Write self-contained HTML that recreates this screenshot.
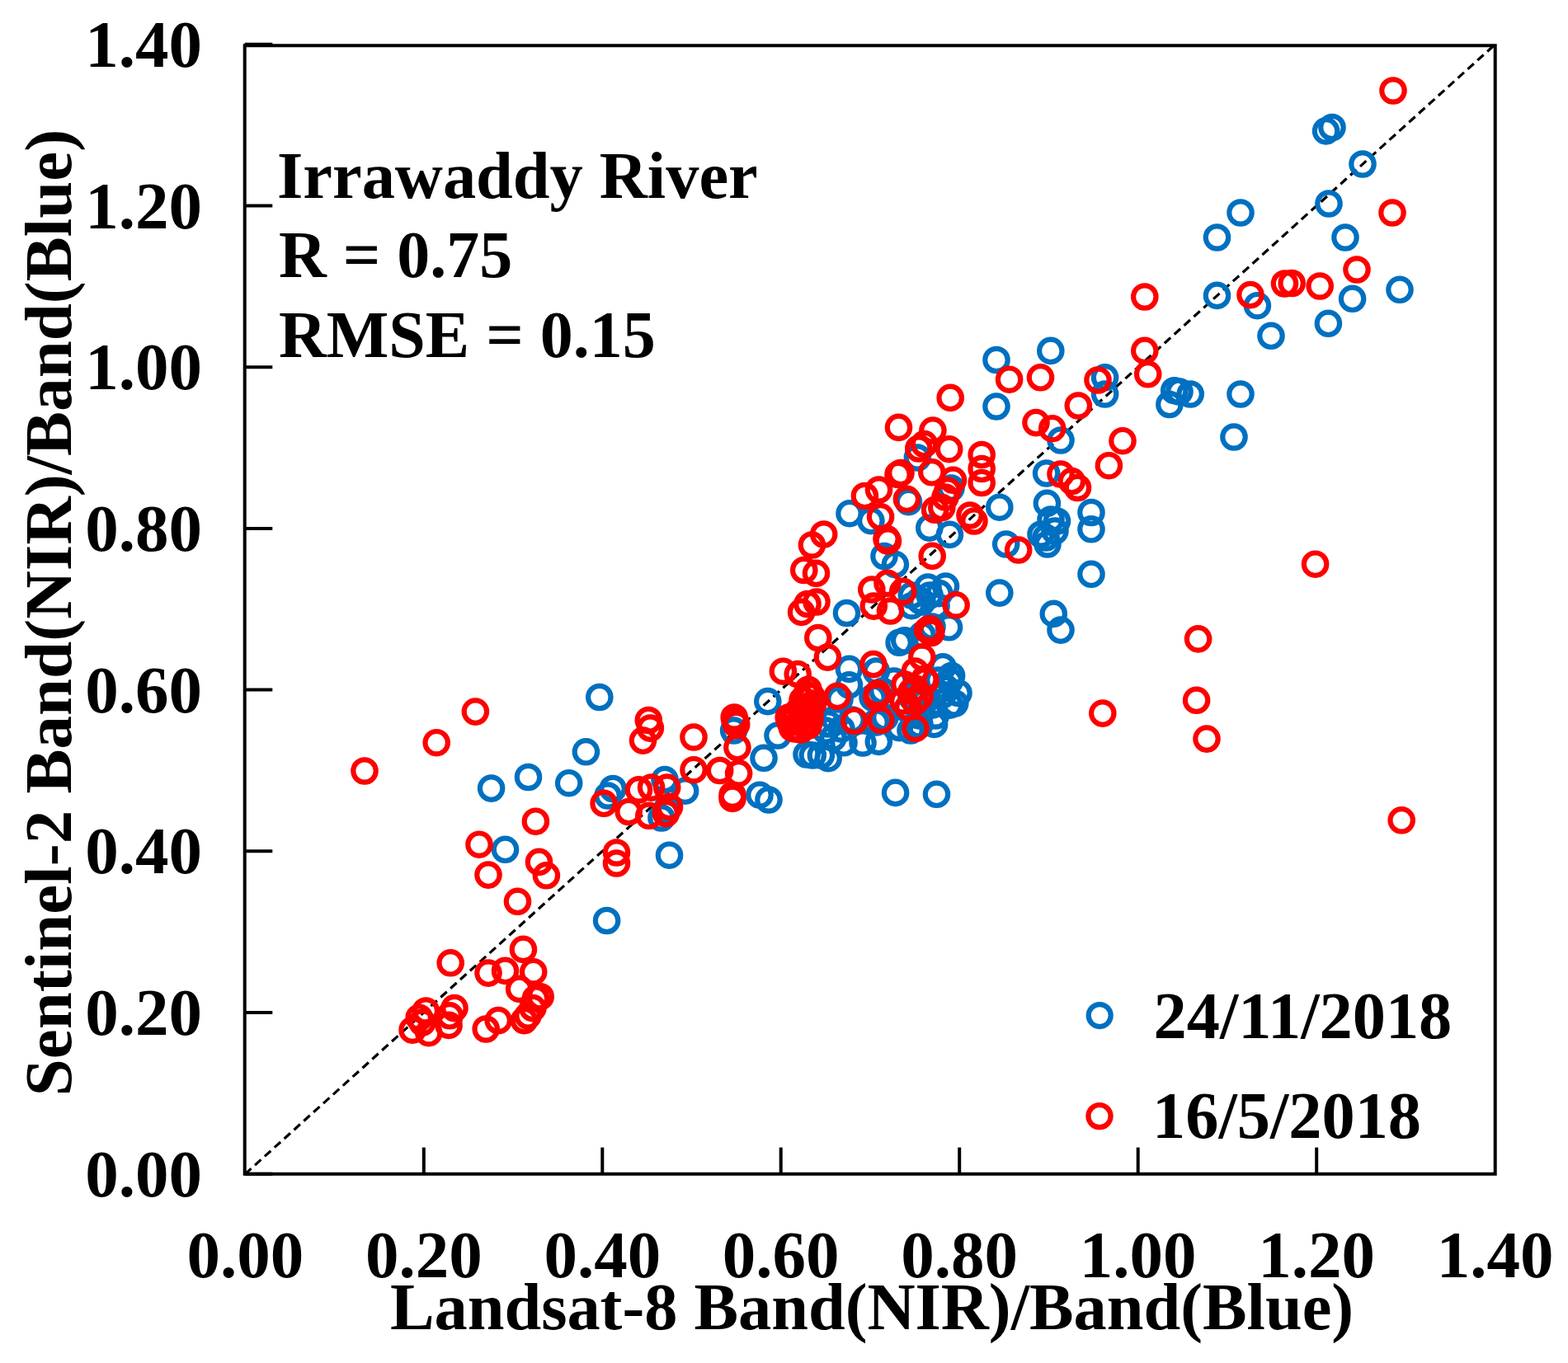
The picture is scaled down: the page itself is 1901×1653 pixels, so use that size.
<!DOCTYPE html>
<html><head><meta charset="utf-8"><title>Scatter</title>
<style>html,body{margin:0;padding:0;background:#fff;width:1901px;height:1653px;overflow:hidden}svg{display:block;filter:blur(0.55px)}</style>
</head><body>
<svg width="1901" height="1653" viewBox="0 0 1901 1653">
<rect width="100%" height="100%" fill="#fff"/>
<line x1="297.3" y1="1423.7" x2="1812.7" y2="53.8" stroke="#000" stroke-width="3.2" stroke-dasharray="10 5.985" stroke-dashoffset="0.2"/>
<circle cx="1607.6" cy="158.9" r="13.7" fill="none" stroke="#0070C0" stroke-width="6.2"/>
<circle cx="1615.0" cy="154.5" r="13.7" fill="none" stroke="#0070C0" stroke-width="6.2"/>
<circle cx="1652.0" cy="199.0" r="13.7" fill="none" stroke="#0070C0" stroke-width="6.2"/>
<circle cx="1611.0" cy="247.0" r="13.7" fill="none" stroke="#0070C0" stroke-width="6.2"/>
<circle cx="1504.0" cy="258.0" r="13.7" fill="none" stroke="#0070C0" stroke-width="6.2"/>
<circle cx="1475.5" cy="288.0" r="13.7" fill="none" stroke="#0070C0" stroke-width="6.2"/>
<circle cx="1631.0" cy="288.0" r="13.7" fill="none" stroke="#0070C0" stroke-width="6.2"/>
<circle cx="1697.0" cy="351.3" r="13.7" fill="none" stroke="#0070C0" stroke-width="6.2"/>
<circle cx="1475.5" cy="358.4" r="13.7" fill="none" stroke="#0070C0" stroke-width="6.2"/>
<circle cx="1524.4" cy="370.7" r="13.7" fill="none" stroke="#0070C0" stroke-width="6.2"/>
<circle cx="1639.6" cy="362.3" r="13.7" fill="none" stroke="#0070C0" stroke-width="6.2"/>
<circle cx="1610.4" cy="392.3" r="13.7" fill="none" stroke="#0070C0" stroke-width="6.2"/>
<circle cx="1541.0" cy="407.3" r="13.7" fill="none" stroke="#0070C0" stroke-width="6.2"/>
<circle cx="1208.0" cy="436.5" r="13.7" fill="none" stroke="#0070C0" stroke-width="6.2"/>
<circle cx="1273.8" cy="425.4" r="13.7" fill="none" stroke="#0070C0" stroke-width="6.2"/>
<circle cx="1339.6" cy="457.8" r="13.7" fill="none" stroke="#0070C0" stroke-width="6.2"/>
<circle cx="1208.0" cy="493.0" r="13.7" fill="none" stroke="#0070C0" stroke-width="6.2"/>
<circle cx="1339.6" cy="478.0" r="13.7" fill="none" stroke="#0070C0" stroke-width="6.2"/>
<circle cx="1286.0" cy="534.0" r="13.7" fill="none" stroke="#0070C0" stroke-width="6.2"/>
<circle cx="1268.6" cy="574.0" r="13.7" fill="none" stroke="#0070C0" stroke-width="6.2"/>
<circle cx="1269.4" cy="610.4" r="13.7" fill="none" stroke="#0070C0" stroke-width="6.2"/>
<circle cx="1323.0" cy="621.5" r="13.7" fill="none" stroke="#0070C0" stroke-width="6.2"/>
<circle cx="1211.8" cy="615.2" r="13.7" fill="none" stroke="#0070C0" stroke-width="6.2"/>
<circle cx="1423.7" cy="473.7" r="13.7" fill="none" stroke="#0070C0" stroke-width="6.2"/>
<circle cx="1417.9" cy="490.5" r="13.7" fill="none" stroke="#0070C0" stroke-width="6.2"/>
<circle cx="1430.0" cy="475.0" r="13.7" fill="none" stroke="#0070C0" stroke-width="6.2"/>
<circle cx="1504.0" cy="478.0" r="13.7" fill="none" stroke="#0070C0" stroke-width="6.2"/>
<circle cx="1443.2" cy="478.0" r="13.7" fill="none" stroke="#0070C0" stroke-width="6.2"/>
<circle cx="1496.0" cy="530.0" r="13.7" fill="none" stroke="#0070C0" stroke-width="6.2"/>
<circle cx="1323.0" cy="641.8" r="13.7" fill="none" stroke="#0070C0" stroke-width="6.2"/>
<circle cx="1281.5" cy="632.0" r="13.7" fill="none" stroke="#0070C0" stroke-width="6.2"/>
<circle cx="1274.0" cy="630.0" r="13.7" fill="none" stroke="#0070C0" stroke-width="6.2"/>
<circle cx="1262.0" cy="648.0" r="13.7" fill="none" stroke="#0070C0" stroke-width="6.2"/>
<circle cx="1270.0" cy="660.0" r="13.7" fill="none" stroke="#0070C0" stroke-width="6.2"/>
<circle cx="1268.0" cy="652.0" r="13.7" fill="none" stroke="#0070C0" stroke-width="6.2"/>
<circle cx="1279.0" cy="644.0" r="13.7" fill="none" stroke="#0070C0" stroke-width="6.2"/>
<circle cx="1219.7" cy="660.0" r="13.7" fill="none" stroke="#0070C0" stroke-width="6.2"/>
<circle cx="1323.0" cy="696.3" r="13.7" fill="none" stroke="#0070C0" stroke-width="6.2"/>
<circle cx="1211.8" cy="719.1" r="13.7" fill="none" stroke="#0070C0" stroke-width="6.2"/>
<circle cx="1277.3" cy="744.4" r="13.7" fill="none" stroke="#0070C0" stroke-width="6.2"/>
<circle cx="1286.0" cy="764.1" r="13.7" fill="none" stroke="#0070C0" stroke-width="6.2"/>
<circle cx="1112.4" cy="555.0" r="13.7" fill="none" stroke="#0070C0" stroke-width="6.2"/>
<circle cx="1153.0" cy="592.0" r="13.7" fill="none" stroke="#0070C0" stroke-width="6.2"/>
<circle cx="1101.5" cy="608.7" r="13.7" fill="none" stroke="#0070C0" stroke-width="6.2"/>
<circle cx="1126.8" cy="640.2" r="13.7" fill="none" stroke="#0070C0" stroke-width="6.2"/>
<circle cx="1151.4" cy="648.4" r="13.7" fill="none" stroke="#0070C0" stroke-width="6.2"/>
<circle cx="1030.0" cy="622.7" r="13.7" fill="none" stroke="#0070C0" stroke-width="6.2"/>
<circle cx="1055.9" cy="631.6" r="13.7" fill="none" stroke="#0070C0" stroke-width="6.2"/>
<circle cx="1072.0" cy="674.5" r="13.7" fill="none" stroke="#0070C0" stroke-width="6.2"/>
<circle cx="1085.4" cy="684.6" r="13.7" fill="none" stroke="#0070C0" stroke-width="6.2"/>
<circle cx="1026.5" cy="743.5" r="13.7" fill="none" stroke="#0070C0" stroke-width="6.2"/>
<circle cx="1146.5" cy="711.1" r="13.7" fill="none" stroke="#0070C0" stroke-width="6.2"/>
<circle cx="1138.9" cy="719.6" r="13.7" fill="none" stroke="#0070C0" stroke-width="6.2"/>
<circle cx="1127.1" cy="722.1" r="13.7" fill="none" stroke="#0070C0" stroke-width="6.2"/>
<circle cx="1105.3" cy="722.1" r="13.7" fill="none" stroke="#0070C0" stroke-width="6.2"/>
<circle cx="1105.3" cy="734.7" r="13.7" fill="none" stroke="#0070C0" stroke-width="6.2"/>
<circle cx="1118.0" cy="730.0" r="13.7" fill="none" stroke="#0070C0" stroke-width="6.2"/>
<circle cx="1150.5" cy="760.8" r="13.7" fill="none" stroke="#0070C0" stroke-width="6.2"/>
<circle cx="1096.8" cy="776.8" r="13.7" fill="none" stroke="#0070C0" stroke-width="6.2"/>
<circle cx="1090.1" cy="779.3" r="13.7" fill="none" stroke="#0070C0" stroke-width="6.2"/>
<circle cx="1029.5" cy="811.4" r="13.7" fill="none" stroke="#0070C0" stroke-width="6.2"/>
<circle cx="1062.3" cy="814.0" r="13.7" fill="none" stroke="#0070C0" stroke-width="6.2"/>
<circle cx="1029.5" cy="830.8" r="13.7" fill="none" stroke="#0070C0" stroke-width="6.2"/>
<circle cx="1064.0" cy="842.6" r="13.7" fill="none" stroke="#0070C0" stroke-width="6.2"/>
<circle cx="1143.1" cy="808.9" r="13.7" fill="none" stroke="#0070C0" stroke-width="6.2"/>
<circle cx="1151.5" cy="825.8" r="13.7" fill="none" stroke="#0070C0" stroke-width="6.2"/>
<circle cx="1143.1" cy="842.6" r="13.7" fill="none" stroke="#0070C0" stroke-width="6.2"/>
<circle cx="1151.5" cy="855.2" r="13.7" fill="none" stroke="#0070C0" stroke-width="6.2"/>
<circle cx="1084.0" cy="826.0" r="13.7" fill="none" stroke="#0070C0" stroke-width="6.2"/>
<circle cx="1067.8" cy="873.3" r="13.7" fill="none" stroke="#0070C0" stroke-width="6.2"/>
<circle cx="1109.9" cy="882.0" r="13.7" fill="none" stroke="#0070C0" stroke-width="6.2"/>
<circle cx="1153.6" cy="819.5" r="13.7" fill="none" stroke="#0070C0" stroke-width="6.2"/>
<circle cx="1162.0" cy="840.5" r="13.7" fill="none" stroke="#0070C0" stroke-width="6.2"/>
<circle cx="1157.8" cy="853.0" r="13.7" fill="none" stroke="#0070C0" stroke-width="6.2"/>
<circle cx="1132.6" cy="878.4" r="13.7" fill="none" stroke="#0070C0" stroke-width="6.2"/>
<circle cx="1090.5" cy="882.6" r="13.7" fill="none" stroke="#0070C0" stroke-width="6.2"/>
<circle cx="1065.3" cy="899.4" r="13.7" fill="none" stroke="#0070C0" stroke-width="6.2"/>
<circle cx="1046.0" cy="901.0" r="13.7" fill="none" stroke="#0070C0" stroke-width="6.2"/>
<circle cx="1085.6" cy="961.4" r="13.7" fill="none" stroke="#0070C0" stroke-width="6.2"/>
<circle cx="1135.5" cy="963.3" r="13.7" fill="none" stroke="#0070C0" stroke-width="6.2"/>
<circle cx="1018.0" cy="848.0" r="13.7" fill="none" stroke="#0070C0" stroke-width="6.2"/>
<circle cx="1033.0" cy="873.0" r="13.7" fill="none" stroke="#0070C0" stroke-width="6.2"/>
<circle cx="1023.0" cy="900.8" r="13.7" fill="none" stroke="#0070C0" stroke-width="6.2"/>
<circle cx="985.3" cy="916.0" r="13.7" fill="none" stroke="#0070C0" stroke-width="6.2"/>
<circle cx="995.4" cy="916.0" r="13.7" fill="none" stroke="#0070C0" stroke-width="6.2"/>
<circle cx="1004.2" cy="919.7" r="13.7" fill="none" stroke="#0070C0" stroke-width="6.2"/>
<circle cx="1004.0" cy="878.0" r="13.7" fill="none" stroke="#0070C0" stroke-width="6.2"/>
<circle cx="1010.0" cy="895.0" r="13.7" fill="none" stroke="#0070C0" stroke-width="6.2"/>
<circle cx="930.8" cy="850.6" r="13.7" fill="none" stroke="#0070C0" stroke-width="6.2"/>
<circle cx="889.6" cy="886.0" r="13.7" fill="none" stroke="#0070C0" stroke-width="6.2"/>
<circle cx="943.0" cy="892.0" r="13.7" fill="none" stroke="#0070C0" stroke-width="6.2"/>
<circle cx="926.0" cy="919.3" r="13.7" fill="none" stroke="#0070C0" stroke-width="6.2"/>
<circle cx="921.0" cy="964.2" r="13.7" fill="none" stroke="#0070C0" stroke-width="6.2"/>
<circle cx="932.0" cy="970.0" r="13.7" fill="none" stroke="#0070C0" stroke-width="6.2"/>
<circle cx="978.0" cy="915.0" r="13.7" fill="none" stroke="#0070C0" stroke-width="6.2"/>
<circle cx="1146.5" cy="834.4" r="13.7" fill="none" stroke="#0070C0" stroke-width="6.2"/>
<circle cx="1134.4" cy="868.0" r="13.7" fill="none" stroke="#0070C0" stroke-width="6.2"/>
<circle cx="1138.0" cy="825.0" r="13.7" fill="none" stroke="#0070C0" stroke-width="6.2"/>
<circle cx="1130.0" cy="855.0" r="13.7" fill="none" stroke="#0070C0" stroke-width="6.2"/>
<circle cx="726.8" cy="845.5" r="13.7" fill="none" stroke="#0070C0" stroke-width="6.2"/>
<circle cx="710.4" cy="911.8" r="13.7" fill="none" stroke="#0070C0" stroke-width="6.2"/>
<circle cx="640.5" cy="942.5" r="13.7" fill="none" stroke="#0070C0" stroke-width="6.2"/>
<circle cx="689.7" cy="949.7" r="13.7" fill="none" stroke="#0070C0" stroke-width="6.2"/>
<circle cx="743.1" cy="956.5" r="13.7" fill="none" stroke="#0070C0" stroke-width="6.2"/>
<circle cx="737.0" cy="965.0" r="13.7" fill="none" stroke="#0070C0" stroke-width="6.2"/>
<circle cx="806.0" cy="945.6" r="13.7" fill="none" stroke="#0070C0" stroke-width="6.2"/>
<circle cx="830.6" cy="959.2" r="13.7" fill="none" stroke="#0070C0" stroke-width="6.2"/>
<circle cx="808.7" cy="981.1" r="13.7" fill="none" stroke="#0070C0" stroke-width="6.2"/>
<circle cx="801.9" cy="992.0" r="13.7" fill="none" stroke="#0070C0" stroke-width="6.2"/>
<circle cx="811.5" cy="1037.2" r="13.7" fill="none" stroke="#0070C0" stroke-width="6.2"/>
<circle cx="595.6" cy="956.1" r="13.7" fill="none" stroke="#0070C0" stroke-width="6.2"/>
<circle cx="612.5" cy="1030.3" r="13.7" fill="none" stroke="#0070C0" stroke-width="6.2"/>
<circle cx="735.6" cy="1116.5" r="13.7" fill="none" stroke="#0070C0" stroke-width="6.2"/>
<circle cx="1012.0" cy="872.0" r="13.7" fill="none" stroke="#0070C0" stroke-width="6.2"/>
<circle cx="1001.0" cy="886.0" r="13.7" fill="none" stroke="#0070C0" stroke-width="6.2"/>
<circle cx="1020.0" cy="884.0" r="13.7" fill="none" stroke="#0070C0" stroke-width="6.2"/>
<circle cx="1058.0" cy="846.0" r="13.7" fill="none" stroke="#0070C0" stroke-width="6.2"/>
<circle cx="1070.0" cy="838.0" r="13.7" fill="none" stroke="#0070C0" stroke-width="6.2"/>
<circle cx="1062.0" cy="876.0" r="13.7" fill="none" stroke="#0070C0" stroke-width="6.2"/>
<circle cx="1073.0" cy="870.0" r="13.7" fill="none" stroke="#0070C0" stroke-width="6.2"/>
<circle cx="1104.0" cy="886.0" r="13.7" fill="none" stroke="#0070C0" stroke-width="6.2"/>
<circle cx="1115.0" cy="879.0" r="13.7" fill="none" stroke="#0070C0" stroke-width="6.2"/>
<circle cx="1100.0" cy="860.0" r="13.7" fill="none" stroke="#0070C0" stroke-width="6.2"/>
<circle cx="1115.0" cy="868.0" r="13.7" fill="none" stroke="#0070C0" stroke-width="6.2"/>
<circle cx="1105.0" cy="845.0" r="13.7" fill="none" stroke="#0070C0" stroke-width="6.2"/>
<circle cx="1121.0" cy="851.0" r="13.7" fill="none" stroke="#0070C0" stroke-width="6.2"/>
<circle cx="1118.0" cy="770.0" r="13.7" fill="none" stroke="#0070C0" stroke-width="6.2"/>
<circle cx="1130.0" cy="760.0" r="13.7" fill="none" stroke="#0070C0" stroke-width="6.2"/>
<circle cx="1115.0" cy="728.0" r="13.7" fill="none" stroke="#0070C0" stroke-width="6.2"/>
<circle cx="1135.0" cy="735.0" r="13.7" fill="none" stroke="#0070C0" stroke-width="6.2"/>
<circle cx="1125.0" cy="712.0" r="13.7" fill="none" stroke="#0070C0" stroke-width="6.2"/>
<circle cx="1689.0" cy="110.0" r="13.7" fill="none" stroke="#FF0000" stroke-width="6.2"/>
<circle cx="1688.0" cy="258.0" r="13.7" fill="none" stroke="#FF0000" stroke-width="6.2"/>
<circle cx="1645.0" cy="327.0" r="13.7" fill="none" stroke="#FF0000" stroke-width="6.2"/>
<circle cx="1516.0" cy="357.6" r="13.7" fill="none" stroke="#FF0000" stroke-width="6.2"/>
<circle cx="1557.5" cy="344.0" r="13.7" fill="none" stroke="#FF0000" stroke-width="6.2"/>
<circle cx="1566.2" cy="343.5" r="13.7" fill="none" stroke="#FF0000" stroke-width="6.2"/>
<circle cx="1600.2" cy="347.0" r="13.7" fill="none" stroke="#FF0000" stroke-width="6.2"/>
<circle cx="1387.8" cy="360.0" r="13.7" fill="none" stroke="#FF0000" stroke-width="6.2"/>
<circle cx="1387.8" cy="425.4" r="13.7" fill="none" stroke="#FF0000" stroke-width="6.2"/>
<circle cx="1223.6" cy="460.2" r="13.7" fill="none" stroke="#FF0000" stroke-width="6.2"/>
<circle cx="1261.5" cy="457.8" r="13.7" fill="none" stroke="#FF0000" stroke-width="6.2"/>
<circle cx="1331.0" cy="461.0" r="13.7" fill="none" stroke="#FF0000" stroke-width="6.2"/>
<circle cx="1391.7" cy="453.8" r="13.7" fill="none" stroke="#FF0000" stroke-width="6.2"/>
<circle cx="1307.3" cy="492.0" r="13.7" fill="none" stroke="#FF0000" stroke-width="6.2"/>
<circle cx="1256.0" cy="512.6" r="13.7" fill="none" stroke="#FF0000" stroke-width="6.2"/>
<circle cx="1275.7" cy="519.7" r="13.7" fill="none" stroke="#FF0000" stroke-width="6.2"/>
<circle cx="1361.0" cy="534.7" r="13.7" fill="none" stroke="#FF0000" stroke-width="6.2"/>
<circle cx="1344.4" cy="564.7" r="13.7" fill="none" stroke="#FF0000" stroke-width="6.2"/>
<circle cx="1286.0" cy="575.0" r="13.7" fill="none" stroke="#FF0000" stroke-width="6.2"/>
<circle cx="1299.4" cy="583.6" r="13.7" fill="none" stroke="#FF0000" stroke-width="6.2"/>
<circle cx="1306.5" cy="591.5" r="13.7" fill="none" stroke="#FF0000" stroke-width="6.2"/>
<circle cx="1234.7" cy="667.0" r="13.7" fill="none" stroke="#FF0000" stroke-width="6.2"/>
<circle cx="1594.6" cy="684.2" r="13.7" fill="none" stroke="#FF0000" stroke-width="6.2"/>
<circle cx="1452.6" cy="774.9" r="13.7" fill="none" stroke="#FF0000" stroke-width="6.2"/>
<circle cx="1450.6" cy="849.3" r="13.7" fill="none" stroke="#FF0000" stroke-width="6.2"/>
<circle cx="1463.0" cy="896.1" r="13.7" fill="none" stroke="#FF0000" stroke-width="6.2"/>
<circle cx="1699.2" cy="994.8" r="13.7" fill="none" stroke="#FF0000" stroke-width="6.2"/>
<circle cx="1336.8" cy="865.1" r="13.7" fill="none" stroke="#FF0000" stroke-width="6.2"/>
<circle cx="1152.2" cy="482.4" r="13.7" fill="none" stroke="#FF0000" stroke-width="6.2"/>
<circle cx="1089.5" cy="518.4" r="13.7" fill="none" stroke="#FF0000" stroke-width="6.2"/>
<circle cx="1130.9" cy="522.1" r="13.7" fill="none" stroke="#FF0000" stroke-width="6.2"/>
<circle cx="1120.6" cy="538.6" r="13.7" fill="none" stroke="#FF0000" stroke-width="6.2"/>
<circle cx="1113.8" cy="544.0" r="13.7" fill="none" stroke="#FF0000" stroke-width="6.2"/>
<circle cx="1150.7" cy="544.7" r="13.7" fill="none" stroke="#FF0000" stroke-width="6.2"/>
<circle cx="1129.8" cy="572.8" r="13.7" fill="none" stroke="#FF0000" stroke-width="6.2"/>
<circle cx="1089.0" cy="575.5" r="13.7" fill="none" stroke="#FF0000" stroke-width="6.2"/>
<circle cx="1092.0" cy="573.5" r="13.7" fill="none" stroke="#FF0000" stroke-width="6.2"/>
<circle cx="1190.2" cy="551.5" r="13.7" fill="none" stroke="#FF0000" stroke-width="6.2"/>
<circle cx="1190.2" cy="568.5" r="13.7" fill="none" stroke="#FF0000" stroke-width="6.2"/>
<circle cx="1190.2" cy="585.5" r="13.7" fill="none" stroke="#FF0000" stroke-width="6.2"/>
<circle cx="1155.5" cy="582.3" r="13.7" fill="none" stroke="#FF0000" stroke-width="6.2"/>
<circle cx="1099.4" cy="605.3" r="13.7" fill="none" stroke="#FF0000" stroke-width="6.2"/>
<circle cx="1133.6" cy="618.3" r="13.7" fill="none" stroke="#FF0000" stroke-width="6.2"/>
<circle cx="1141.8" cy="615.6" r="13.7" fill="none" stroke="#FF0000" stroke-width="6.2"/>
<circle cx="1146.0" cy="603.0" r="13.7" fill="none" stroke="#FF0000" stroke-width="6.2"/>
<circle cx="1149.0" cy="595.0" r="13.7" fill="none" stroke="#FF0000" stroke-width="6.2"/>
<circle cx="1176.0" cy="625.0" r="13.7" fill="none" stroke="#FF0000" stroke-width="6.2"/>
<circle cx="1181.0" cy="632.0" r="13.7" fill="none" stroke="#FF0000" stroke-width="6.2"/>
<circle cx="1130.2" cy="674.4" r="13.7" fill="none" stroke="#FF0000" stroke-width="6.2"/>
<circle cx="1048.4" cy="601.5" r="13.7" fill="none" stroke="#FF0000" stroke-width="6.2"/>
<circle cx="1065.5" cy="594.0" r="13.7" fill="none" stroke="#FF0000" stroke-width="6.2"/>
<circle cx="1067.6" cy="626.8" r="13.7" fill="none" stroke="#FF0000" stroke-width="6.2"/>
<circle cx="1075.0" cy="653.4" r="13.7" fill="none" stroke="#FF0000" stroke-width="6.2"/>
<circle cx="1076.4" cy="656.2" r="13.7" fill="none" stroke="#FF0000" stroke-width="6.2"/>
<circle cx="998.7" cy="648.0" r="13.7" fill="none" stroke="#FF0000" stroke-width="6.2"/>
<circle cx="1076.0" cy="707.3" r="13.7" fill="none" stroke="#FF0000" stroke-width="6.2"/>
<circle cx="1056.8" cy="715.0" r="13.7" fill="none" stroke="#FF0000" stroke-width="6.2"/>
<circle cx="1094.7" cy="717.4" r="13.7" fill="none" stroke="#FF0000" stroke-width="6.2"/>
<circle cx="1059.3" cy="735.1" r="13.7" fill="none" stroke="#FF0000" stroke-width="6.2"/>
<circle cx="1079.5" cy="741.0" r="13.7" fill="none" stroke="#FF0000" stroke-width="6.2"/>
<circle cx="984.4" cy="661.0" r="13.7" fill="none" stroke="#FF0000" stroke-width="6.2"/>
<circle cx="974.8" cy="691.5" r="13.7" fill="none" stroke="#FF0000" stroke-width="6.2"/>
<circle cx="989.5" cy="695.3" r="13.7" fill="none" stroke="#FF0000" stroke-width="6.2"/>
<circle cx="990.0" cy="730.0" r="13.7" fill="none" stroke="#FF0000" stroke-width="6.2"/>
<circle cx="979.0" cy="732.5" r="13.7" fill="none" stroke="#FF0000" stroke-width="6.2"/>
<circle cx="971.6" cy="742.4" r="13.7" fill="none" stroke="#FF0000" stroke-width="6.2"/>
<circle cx="1159.1" cy="733.9" r="13.7" fill="none" stroke="#FF0000" stroke-width="6.2"/>
<circle cx="1124.6" cy="764.2" r="13.7" fill="none" stroke="#FF0000" stroke-width="6.2"/>
<circle cx="1127.1" cy="762.5" r="13.7" fill="none" stroke="#FF0000" stroke-width="6.2"/>
<circle cx="1128.8" cy="767.5" r="13.7" fill="none" stroke="#FF0000" stroke-width="6.2"/>
<circle cx="1003.4" cy="797.1" r="13.7" fill="none" stroke="#FF0000" stroke-width="6.2"/>
<circle cx="1117.8" cy="797.1" r="13.7" fill="none" stroke="#FF0000" stroke-width="6.2"/>
<circle cx="1058.9" cy="805.6" r="13.7" fill="none" stroke="#FF0000" stroke-width="6.2"/>
<circle cx="1015.2" cy="844.3" r="13.7" fill="none" stroke="#FF0000" stroke-width="6.2"/>
<circle cx="1064.0" cy="840.9" r="13.7" fill="none" stroke="#FF0000" stroke-width="6.2"/>
<circle cx="1109.4" cy="814.0" r="13.7" fill="none" stroke="#FF0000" stroke-width="6.2"/>
<circle cx="1122.0" cy="825.8" r="13.7" fill="none" stroke="#FF0000" stroke-width="6.2"/>
<circle cx="1105.2" cy="838.4" r="13.7" fill="none" stroke="#FF0000" stroke-width="6.2"/>
<circle cx="1109.4" cy="851.0" r="13.7" fill="none" stroke="#FF0000" stroke-width="6.2"/>
<circle cx="1101.0" cy="857.7" r="13.7" fill="none" stroke="#FF0000" stroke-width="6.2"/>
<circle cx="1063.0" cy="845.0" r="13.7" fill="none" stroke="#FF0000" stroke-width="6.2"/>
<circle cx="1067.8" cy="873.3" r="13.7" fill="none" stroke="#FF0000" stroke-width="6.2"/>
<circle cx="1109.9" cy="883.4" r="13.7" fill="none" stroke="#FF0000" stroke-width="6.2"/>
<circle cx="1120.8" cy="823.7" r="13.7" fill="none" stroke="#FF0000" stroke-width="6.2"/>
<circle cx="1035.8" cy="874.3" r="13.7" fill="none" stroke="#FF0000" stroke-width="6.2"/>
<circle cx="991.8" cy="773.5" r="13.7" fill="none" stroke="#FF0000" stroke-width="6.2"/>
<circle cx="949.4" cy="814.2" r="13.7" fill="none" stroke="#FF0000" stroke-width="6.2"/>
<circle cx="967.2" cy="817.6" r="13.7" fill="none" stroke="#FF0000" stroke-width="6.2"/>
<circle cx="890.2" cy="870.0" r="13.7" fill="none" stroke="#FF0000" stroke-width="6.2"/>
<circle cx="892.7" cy="878.5" r="13.7" fill="none" stroke="#FF0000" stroke-width="6.2"/>
<circle cx="979.9" cy="836.2" r="13.7" fill="none" stroke="#FF0000" stroke-width="6.2"/>
<circle cx="973.1" cy="848.9" r="13.7" fill="none" stroke="#FF0000" stroke-width="6.2"/>
<circle cx="964.7" cy="865.8" r="13.7" fill="none" stroke="#FF0000" stroke-width="6.2"/>
<circle cx="956.2" cy="870.1" r="13.7" fill="none" stroke="#FF0000" stroke-width="6.2"/>
<circle cx="960.4" cy="882.8" r="13.7" fill="none" stroke="#FF0000" stroke-width="6.2"/>
<circle cx="981.6" cy="874.3" r="13.7" fill="none" stroke="#FF0000" stroke-width="6.2"/>
<circle cx="985.8" cy="853.1" r="13.7" fill="none" stroke="#FF0000" stroke-width="6.2"/>
<circle cx="893.9" cy="906.6" r="13.7" fill="none" stroke="#FF0000" stroke-width="6.2"/>
<circle cx="872.7" cy="934.5" r="13.7" fill="none" stroke="#FF0000" stroke-width="6.2"/>
<circle cx="895.6" cy="937.9" r="13.7" fill="none" stroke="#FF0000" stroke-width="6.2"/>
<circle cx="888.0" cy="964.2" r="13.7" fill="none" stroke="#FF0000" stroke-width="6.2"/>
<circle cx="888.0" cy="968.4" r="13.7" fill="none" stroke="#FF0000" stroke-width="6.2"/>
<circle cx="978.0" cy="842.0" r="13.7" fill="none" stroke="#FF0000" stroke-width="6.2"/>
<circle cx="984.0" cy="845.0" r="13.7" fill="none" stroke="#FF0000" stroke-width="6.2"/>
<circle cx="981.0" cy="858.0" r="13.7" fill="none" stroke="#FF0000" stroke-width="6.2"/>
<circle cx="970.0" cy="860.0" r="13.7" fill="none" stroke="#FF0000" stroke-width="6.2"/>
<circle cx="963.0" cy="868.0" r="13.7" fill="none" stroke="#FF0000" stroke-width="6.2"/>
<circle cx="982.0" cy="868.0" r="13.7" fill="none" stroke="#FF0000" stroke-width="6.2"/>
<circle cx="958.0" cy="876.0" r="13.7" fill="none" stroke="#FF0000" stroke-width="6.2"/>
<circle cx="974.0" cy="878.0" r="13.7" fill="none" stroke="#FF0000" stroke-width="6.2"/>
<circle cx="980.0" cy="880.0" r="13.7" fill="none" stroke="#FF0000" stroke-width="6.2"/>
<circle cx="964.0" cy="884.0" r="13.7" fill="none" stroke="#FF0000" stroke-width="6.2"/>
<circle cx="971.0" cy="885.0" r="13.7" fill="none" stroke="#FF0000" stroke-width="6.2"/>
<circle cx="1097.0" cy="830.0" r="13.7" fill="none" stroke="#FF0000" stroke-width="6.2"/>
<circle cx="1115.0" cy="845.0" r="13.7" fill="none" stroke="#FF0000" stroke-width="6.2"/>
<circle cx="1095.0" cy="850.0" r="13.7" fill="none" stroke="#FF0000" stroke-width="6.2"/>
<circle cx="1110.0" cy="835.0" r="13.7" fill="none" stroke="#FF0000" stroke-width="6.2"/>
<circle cx="786.3" cy="873.5" r="13.7" fill="none" stroke="#FF0000" stroke-width="6.2"/>
<circle cx="788.4" cy="883.1" r="13.7" fill="none" stroke="#FF0000" stroke-width="6.2"/>
<circle cx="779.5" cy="898.1" r="13.7" fill="none" stroke="#FF0000" stroke-width="6.2"/>
<circle cx="841.0" cy="894.0" r="13.7" fill="none" stroke="#FF0000" stroke-width="6.2"/>
<circle cx="841.0" cy="933.7" r="13.7" fill="none" stroke="#FF0000" stroke-width="6.2"/>
<circle cx="649.4" cy="996.2" r="13.7" fill="none" stroke="#FF0000" stroke-width="6.2"/>
<circle cx="653.5" cy="1045.4" r="13.7" fill="none" stroke="#FF0000" stroke-width="6.2"/>
<circle cx="662.4" cy="1061.8" r="13.7" fill="none" stroke="#FF0000" stroke-width="6.2"/>
<circle cx="627.5" cy="1093.3" r="13.7" fill="none" stroke="#FF0000" stroke-width="6.2"/>
<circle cx="732.1" cy="974.3" r="13.7" fill="none" stroke="#FF0000" stroke-width="6.2"/>
<circle cx="762.2" cy="984.5" r="13.7" fill="none" stroke="#FF0000" stroke-width="6.2"/>
<circle cx="774.5" cy="957.9" r="13.7" fill="none" stroke="#FF0000" stroke-width="6.2"/>
<circle cx="789.6" cy="955.1" r="13.7" fill="none" stroke="#FF0000" stroke-width="6.2"/>
<circle cx="808.7" cy="955.1" r="13.7" fill="none" stroke="#FF0000" stroke-width="6.2"/>
<circle cx="786.8" cy="989.3" r="13.7" fill="none" stroke="#FF0000" stroke-width="6.2"/>
<circle cx="807.4" cy="986.6" r="13.7" fill="none" stroke="#FF0000" stroke-width="6.2"/>
<circle cx="811.5" cy="978.4" r="13.7" fill="none" stroke="#FF0000" stroke-width="6.2"/>
<circle cx="747.5" cy="1034.0" r="13.7" fill="none" stroke="#FF0000" stroke-width="6.2"/>
<circle cx="747.5" cy="1047.0" r="13.7" fill="none" stroke="#FF0000" stroke-width="6.2"/>
<circle cx="576.4" cy="863.1" r="13.7" fill="none" stroke="#FF0000" stroke-width="6.2"/>
<circle cx="529.2" cy="900.7" r="13.7" fill="none" stroke="#FF0000" stroke-width="6.2"/>
<circle cx="442.0" cy="935.0" r="13.7" fill="none" stroke="#FF0000" stroke-width="6.2"/>
<circle cx="581.0" cy="1024.2" r="13.7" fill="none" stroke="#FF0000" stroke-width="6.2"/>
<circle cx="592.0" cy="1061.1" r="13.7" fill="none" stroke="#FF0000" stroke-width="6.2"/>
<circle cx="634.4" cy="1151.4" r="13.7" fill="none" stroke="#FF0000" stroke-width="6.2"/>
<circle cx="546.2" cy="1167.8" r="13.7" fill="none" stroke="#FF0000" stroke-width="6.2"/>
<circle cx="592.0" cy="1180.1" r="13.7" fill="none" stroke="#FF0000" stroke-width="6.2"/>
<circle cx="612.5" cy="1177.4" r="13.7" fill="none" stroke="#FF0000" stroke-width="6.2"/>
<circle cx="646.7" cy="1178.7" r="13.7" fill="none" stroke="#FF0000" stroke-width="6.2"/>
<circle cx="629.7" cy="1199.4" r="13.7" fill="none" stroke="#FF0000" stroke-width="6.2"/>
<circle cx="649.4" cy="1211.0" r="13.7" fill="none" stroke="#FF0000" stroke-width="6.2"/>
<circle cx="645.9" cy="1222.6" r="13.7" fill="none" stroke="#FF0000" stroke-width="6.2"/>
<circle cx="640.1" cy="1231.8" r="13.7" fill="none" stroke="#FF0000" stroke-width="6.2"/>
<circle cx="635.5" cy="1237.6" r="13.7" fill="none" stroke="#FF0000" stroke-width="6.2"/>
<circle cx="655.2" cy="1208.7" r="13.7" fill="none" stroke="#FF0000" stroke-width="6.2"/>
<circle cx="604.2" cy="1237.6" r="13.7" fill="none" stroke="#FF0000" stroke-width="6.2"/>
<circle cx="589.2" cy="1248.0" r="13.7" fill="none" stroke="#FF0000" stroke-width="6.2"/>
<circle cx="551.0" cy="1222.6" r="13.7" fill="none" stroke="#FF0000" stroke-width="6.2"/>
<circle cx="545.2" cy="1231.8" r="13.7" fill="none" stroke="#FF0000" stroke-width="6.2"/>
<circle cx="544.1" cy="1243.4" r="13.7" fill="none" stroke="#FF0000" stroke-width="6.2"/>
<circle cx="516.3" cy="1226.0" r="13.7" fill="none" stroke="#FF0000" stroke-width="6.2"/>
<circle cx="508.2" cy="1234.2" r="13.7" fill="none" stroke="#FF0000" stroke-width="6.2"/>
<circle cx="500.1" cy="1249.2" r="13.7" fill="none" stroke="#FF0000" stroke-width="6.2"/>
<circle cx="519.8" cy="1252.7" r="13.7" fill="none" stroke="#FF0000" stroke-width="6.2"/>
<circle cx="512.0" cy="1240.0" r="13.7" fill="none" stroke="#FF0000" stroke-width="6.2"/>
<circle cx="891.0" cy="874.0" r="13.7" fill="none" stroke="#FF0000" stroke-width="6.2"/>
<path d="M296.7 1423.8H1812.7V55.2H296.7Z" fill="none" stroke="#000" stroke-width="4"/>
<line x1="296.7" y1="1423.7" x2="330.3" y2="1423.7" stroke="#000" stroke-width="4"/>
<line x1="296.7" y1="1228.0" x2="330.3" y2="1228.0" stroke="#000" stroke-width="4"/>
<line x1="296.7" y1="1032.3" x2="330.3" y2="1032.3" stroke="#000" stroke-width="4"/>
<line x1="296.7" y1="836.6" x2="330.3" y2="836.6" stroke="#000" stroke-width="4"/>
<line x1="296.7" y1="640.9" x2="330.3" y2="640.9" stroke="#000" stroke-width="4"/>
<line x1="296.7" y1="445.2" x2="330.3" y2="445.2" stroke="#000" stroke-width="4"/>
<line x1="296.7" y1="249.5" x2="330.3" y2="249.5" stroke="#000" stroke-width="4"/>
<line x1="296.7" y1="53.8" x2="330.3" y2="53.8" stroke="#000" stroke-width="4"/>
<line x1="513.8" y1="1423.8" x2="513.8" y2="1391.6" stroke="#000" stroke-width="4"/>
<line x1="730.3" y1="1423.8" x2="730.3" y2="1391.6" stroke="#000" stroke-width="4"/>
<line x1="946.7" y1="1423.8" x2="946.7" y2="1391.6" stroke="#000" stroke-width="4"/>
<line x1="1163.2" y1="1423.8" x2="1163.2" y2="1391.6" stroke="#000" stroke-width="4"/>
<line x1="1379.7" y1="1423.8" x2="1379.7" y2="1391.6" stroke="#000" stroke-width="4"/>
<line x1="1596.2" y1="1423.8" x2="1596.2" y2="1391.6" stroke="#000" stroke-width="4"/>
<g font-family="Liberation Serif, serif" font-weight="bold" font-size="81" fill="#000">
<text x="245" y="1450.7" text-anchor="end">0.00</text>
<text x="245" y="1255.0" text-anchor="end">0.20</text>
<text x="245" y="1059.3" text-anchor="end">0.40</text>
<text x="245" y="863.6" text-anchor="end">0.60</text>
<text x="245" y="667.9" text-anchor="end">0.80</text>
<text x="245" y="472.2" text-anchor="end">1.00</text>
<text x="245" y="276.5" text-anchor="end">1.20</text>
<text x="245" y="80.8" text-anchor="end">1.40</text>
<text x="297.3" y="1549" text-anchor="middle">0.00</text>
<text x="513.8" y="1549" text-anchor="middle">0.20</text>
<text x="730.3" y="1549" text-anchor="middle">0.40</text>
<text x="946.7" y="1549" text-anchor="middle">0.60</text>
<text x="1163.2" y="1549" text-anchor="middle">0.80</text>
<text x="1379.7" y="1549" text-anchor="middle">1.00</text>
<text x="1596.2" y="1549" text-anchor="middle">1.20</text>
<text x="1812.7" y="1549" text-anchor="middle">1.40</text>
<text x="1057" y="1611.5" font-size="80.4" text-anchor="middle">Landsat-8 Band(NIR)/Band(Blue)</text>
<text transform="translate(85.5,743) rotate(-90)" text-anchor="middle">Sentinel-2 Band(NIR)/Band(Blue)</text>
<text x="336" y="240" font-size="80.4">Irrawaddy River</text>
<text x="338" y="336" font-size="80">R = 0.75</text>
<text x="338" y="432.5" font-size="80">RMSE = 0.15</text>
<text x="1398.5" y="1259" font-size="80.4">24/11/2018</text>
<text x="1397" y="1379.5" font-size="80.4">16/5/2018</text>
</g>
<circle cx="1333.2" cy="1231.6" r="13.5" fill="none" stroke="#0070C0" stroke-width="6.2"/>
<circle cx="1333" cy="1353.6" r="13.6" fill="none" stroke="#FF0000" stroke-width="6.2"/>
</svg>
</body></html>
